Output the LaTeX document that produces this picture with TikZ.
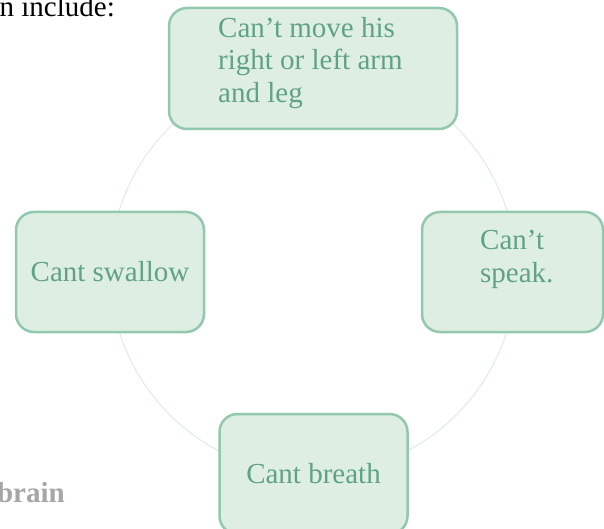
\documentclass[tikz,border=0pt]{standalone}
\usepackage{fontspec}
\setmainfont{Liberation Serif}
\usepackage{xcolor}
\usepackage{tikz}
\usetikzlibrary{positioning}

\definecolor{cardfill}{HTML}{DFEEE2}
\definecolor{cardline}{HTML}{92C8AD}
\definecolor{cardink}{HTML}{5FA383}
\definecolor{ringline}{HTML}{DCEEE0}
\definecolor{taggray}{HTML}{A6A6A6}

\begin{document}
\begin{tikzpicture}[
    x=1pt, y=-1pt,
    card/.style={rectangle, rounded corners=18pt, minimum width=188pt, minimum height=120pt, draw=cardline, line width=2.5pt, fill=cardfill, text=cardink, font=\fontsize{29}{32.5}\selectfont},
    cardtext/.style={text=cardink, font=\fontsize{29}{32.5}\selectfont, inner sep=0pt, align=left},
    side/.style={font=\fontsize{29}{32.5}\selectfont, inner sep=0pt},
    ring/.style={draw=ringline, line width=1pt}
]

    \useasboundingbox (0,0) rectangle (604,529);

    \coordinate (hub) at (313,271);
    \draw [ring] (hub) circle (203pt);

    \node (move) [card, minimum width=288pt, minimum height=121pt] at (313,68.5) {};
    \node (speak) [card, minimum width=181pt] at (512.5,272) {};
    \node (breath) [card] at (313.5,474) {Cant breath};
    \node (swallow) [card] at (110,272) {Cant swallow};

    \node (moveText) [cardtext, anchor=west] at (218,62.8) {Can’t move his\\right or left arm\\and leg};
    \node (speakText) [cardtext, anchor=west] at (480,259.3) {Can’t\\speak.};

    \node (intro) [side, anchor=base east] at (115,17) {n include:};
    \node (brainTag) [side, text=taggray, font=\fontsize{29}{32.5}\selectfont\bfseries, anchor=base east] at (65,502) {brain};

\end{tikzpicture}
\end{document}
